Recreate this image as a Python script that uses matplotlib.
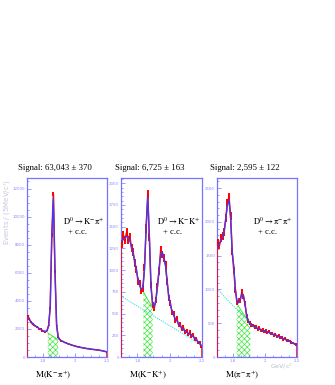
import numpy as np
import matplotlib
matplotlib.use("Agg")
import matplotlib.pyplot as plt
from matplotlib.ticker import MultipleLocator, FixedLocator

plt.rcParams['font.family'] = ['Liberation Serif', 'DejaVu Serif']
plt.rcParams['mathtext.fontset'] = 'stix'
plt.rcParams['hatch.linewidth'] = 0.5

# bin edges, 10 MeV bins from 1.7 to 2.2 GeV
edges = np.linspace(1.7, 2.2, 51)
centers = (edges[:-1] + edges[1:]) / 2

# D0 -> K- pi+
kpi_data = [2950, 2700, 2480, 2330, 2250, 2180, 2150, 2010, 1990, 1870,
            1830, 1790, 1880, 2250, 3500, 8700, 11600, 6100, 2250, 1420,
            1250, 1140, 1110, 1030, 1010, 940, 920, 860, 840, 790,
            780, 720, 720, 680, 670, 630, 630, 590, 600, 555,
            560, 525, 530, 495, 510, 470, 460, 425, 410, 370]
kpi_fit = [2800, 2650, 2520, 2400, 2300, 2200, 2120, 2040, 1970, 1910,
           1860, 1830, 1850, 2200, 3600, 8500, 11300, 6000, 2300, 1400,
           1230, 1160, 1100, 1050, 1000, 950, 910, 870, 830, 795,
           765, 735, 710, 685, 662, 640, 620, 600, 582, 565,
           553, 541, 528, 515, 500, 480, 455, 430, 405, 380]
kpi_sig_x = [1.83, 1.86, 1.895]
kpi_sig_bg = [1720, 1480, 1260]

# D0 -> K- K+
kk_data = [1300, 1400, 1350, 1440, 1350, 1380, 1250, 1210, 1080, 1010,
           870, 850, 760, 790, 1030, 1480, 1870, 1380, 830, 600,
           560, 660, 820, 990, 1230, 1180, 1140, 1060, 870, 680,
           620, 510, 500, 420, 440, 370, 380, 320, 340, 290,
           300, 260, 285, 240, 250, 205, 210, 170, 165, 120]
kk_fit = [1330, 1360, 1380, 1385, 1370, 1330, 1270, 1190, 1100, 1000,
          900, 820, 780, 800, 1000, 1500, 1840, 1400, 800, 620,
          580, 640, 800, 1020, 1190, 1210, 1150, 1040, 860, 700,
          600, 530, 480, 440, 415, 385, 360, 335, 315, 298,
          284, 272, 262, 250, 235, 217, 198, 178, 157, 132]
kk_sig_x = [1.838, 1.865, 1.895]
kk_sig_bg = [750, 660, 575]
kk_comb_x = [1.7, 2.2]
kk_comb_y = [700, 135]

# D0 -> pi- pi+
pipi_data = [1700, 1650, 1760, 1790, 1850, 2060, 2280, 2370, 2080, 1560,
             1280, 990, 800, 830, 840, 960, 900, 790, 610, 530,
             510, 470, 465, 440, 445, 410, 425, 395, 400, 380,
             385, 360, 375, 345, 350, 320, 335, 305, 315, 285,
             295, 265, 275, 250, 245, 235, 215, 210, 195, 185]
pipi_fit = [1630, 1680, 1720, 1780, 1870, 2050, 2240, 2320, 2050, 1550,
            1350, 1000, 820, 800, 850, 930, 920, 780, 620, 540,
            500, 475, 458, 445, 432, 420, 410, 400, 392, 385,
            377, 370, 360, 350, 340, 330, 320, 310, 300, 290,
            280, 270, 260, 250, 240, 228, 216, 204, 192, 180]
pipi_sig_x = [1.823, 1.85, 1.88, 1.908]
pipi_sig_bg = [800, 690, 590, 505]
pipi_comb_x = [1.7, 1.8, 1.908, 2.0, 2.1, 2.2]
pipi_comb_y = [1010, 760, 505, 385, 285, 180]

titles = ["Signal: 63,043 ± 370", "Signal: 6,725 ± 163", "Signal: 2,595 ± 122"]
modes = [r"$\mathrm{D^0\rightarrow K^{-}\pi^{+}}$",
         r"$\mathrm{D^0\rightarrow K^{-}K^{+}}$",
         r"$\mathrm{D^0\rightarrow \pi^{-}\pi^{+}}$"]
xlabels = [r"$\mathrm{M(K^{-}\pi^{+})}$", r"$\mathrm{M(K^{-}K^{+})}$",
           r"$\mathrm{M(\pi^{-}\pi^{+})}$"]

panels = [
    (kpi_data, kpi_fit, kpi_sig_x, kpi_sig_bg, None, None, 12750, 2000, 500),
    (kk_data, kk_fit, kk_sig_x, kk_sig_bg, kk_comb_x, kk_comb_y, 2060, 250, 50),
    (pipi_data, pipi_fit, pipi_sig_x, pipi_sig_bg, pipi_comb_x, pipi_comb_y, 2650, 500, 100),
]

axis_col = '#7474ff'
lefts = [0.0806, 0.3612, 0.6478]
widths = [0.2388, 0.2418, 0.2388]

fig = plt.figure(figsize=(3.35, 3.85), dpi=100)

for k, (data, fit, sx, sbg, cx, cy, ymax, ymaj, ymin) in enumerate(panels):
    ax = fig.add_axes([lefts[k], 0.0727, widths[k], 0.465])
    data = np.array(data, dtype=float)

    # signal region, hatched under the background shape
    ax.fill_between(sx, 0, sbg, facecolor='none', edgecolor='#3ee83e',
                    hatch='xxxxxx', linewidth=0, zorder=1)
    ax.plot(sx, sbg, color='#3ee83e', lw=0.7, zorder=2)

    if cx is not None:
        ax.plot(cx, cy, color='#40e0e0', lw=0.8, ls=(0, (1, 1)), zorder=2)

    # data: line through bin contents, closed down to zero at the range ends
    xs = np.r_[edges[0], edges[0], centers, edges[-1], edges[-1]]
    ys = np.r_[0, data[0], data, data[-1], 0]
    ax.plot(xs, ys, color='red', lw=1.1, zorder=3)
    ax.errorbar(centers, data, yerr=np.sqrt(data) * 1.3, fmt='none',
                ecolor='red', elinewidth=1.4, zorder=3)
    ax.plot(centers, fit, color='#3c3cff', lw=0.9, zorder=4)

    ax.set_xlim(1.7, 2.2)
    ax.set_ylim(0, ymax)

    ax.xaxis.set_major_locator(FixedLocator([1.8, 2.0, 2.2]))
    ax.set_xticklabels(["1.8", "2", "2.2"])
    ax.xaxis.set_minor_locator(MultipleLocator(0.05))
    ax.yaxis.set_major_locator(MultipleLocator(ymaj))
    ax.yaxis.set_minor_locator(MultipleLocator(ymin))
    ax.tick_params(which='both', direction='in', color=axis_col,
                   labelcolor='#8a8aff', labelsize=2.8, pad=1.5,
                   labelfontfamily='DejaVu Sans', width=0.5)
    ax.tick_params(which='major', length=3)
    ax.tick_params(which='minor', length=1.5)
    for sp in ax.spines.values():
        sp.set_color(axis_col)
        sp.set_linewidth(0.9)

    ax.text(0.35, 1.035, titles[k], transform=ax.transAxes, ha='center',
            va='bottom', fontsize=6.3)
    ax.text(0.45, 0.76, modes[k], transform=ax.transAxes, ha='left',
            va='center', fontsize=6.2)
    ax.text(0.515, 0.70, "+ c.c.", transform=ax.transAxes, ha='left',
            va='center', fontsize=6.2)
    ax.text(0.1, -0.1, xlabels[k], transform=ax.transAxes, ha='left',
            va='center', fontsize=6.5)

fig.text(0.022, 0.535, "Events / (5MeV/c$^2$)", rotation=90, ha='center',
         va='top', fontsize=5, color='#c4c8dc', family='DejaVu Sans')
fig.text(0.875, 0.049, "GeV/c$^2$", ha='right', va='center', fontsize=4.5,
         color='#b8bccc', family='DejaVu Sans')

fig.savefig('out.png', dpi=100)
